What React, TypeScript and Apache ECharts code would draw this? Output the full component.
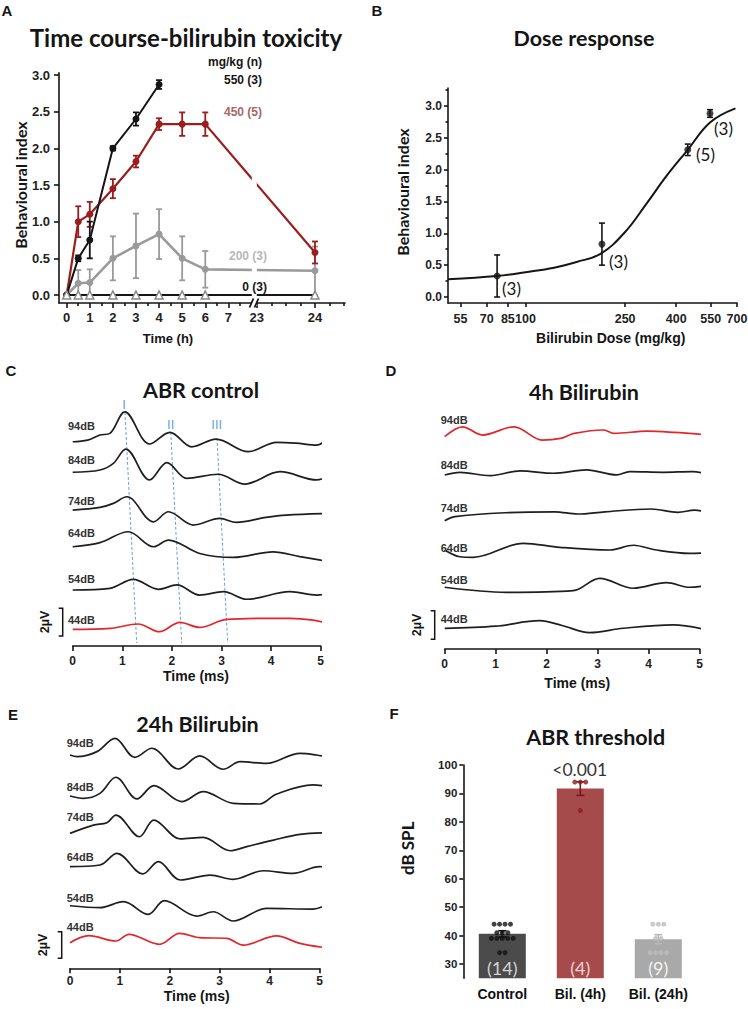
import React, { useEffect, useRef } from 'react';
import * as echarts from 'echarts';

// ---------- Panel A: time course ----------
const hoursAll = [0, 0.5, 1, 2, 3, 4, 5, 6, 24];
const hours550 = [0, 0.5, 1, 2, 3, 4];
const index550 = [0, 0.5, 0.75, 2.0, 2.4, 2.87];
const err550 = [0, 0.04, 0.25, 0.03, 0.09, 0.06];
const index450 = [0, 1.0, 1.1, 1.45, 1.82, 2.33, 2.33, 2.33, 0.58];
const err450 = [0, 0.21, 0.17, 0.13, 0.08, 0.08, 0.16, 0.16, 0.15];
const index200 = [0, 0.16, 0.17, 0.5, 0.67, 0.83, 0.5, 0.35, 0.33];
const err200 = [0, 0.18, 0.18, 0.3, 0.44, 0.34, 0.3, 0.25, 0.33];
const index0 = [0, 0, 0, 0, 0, 0, 0, 0, 0];
const timeTicks = [0, 1, 2, 3, 4, 5, 6, 7, 23, 24];
const timeMinorTicks = [0.5, 1.5, 2.5, 3.5, 4.5, 5.5, 6.5, 7.5, 23.25, 23.5, 23.75, 24.25, 24.5];
const indexTicks = [0, 0.5, 1, 1.5, 2, 2.5, 3];

// ---------- Panel B: dose response ----------
const doses = [77, 202, 445, 546];
const doseIndex = [0.33, 0.83, 2.31, 2.88];
const doseIndexErr = [0.33, 0.33, 0.09, 0.06];
const fitDoses = [49, 77, 100, 130, 160, 200, 250, 305, 366, 445, 546, 690];
const fitIndex = [0.28, 0.33, 0.39, 0.46, 0.55, 0.68, 1.02, 1.47, 1.9, 2.31, 2.74, 2.96];
const doseTicks = [55, 70, 85, 100, 250, 400, 550, 700];
const indexMinorTicks = [0.25, 0.75, 1.25, 1.75, 2.25, 2.75, 3.25];

// ---------- Panels C/D/E: ABR traces [time ms, µV] ----------
const dbLabels = ['94dB', '84dB', '74dB', '64dB', '54dB', '44dB'];
const ctrlTraces = [
  [[0, 0], [0.3, 0.12], [0.55, 0.48], [0.75, 0.6], [1.05, 2.14], [1.55, -0.16], [1.96, 0.67], [2.4, -0.36], [2.89, 0.19], [3.54, -0.71], [4.11, -0.04], [4.5, -0.1], [4.92, -0.24], [5.2, 0.48]],
  [[0, 0], [0.55, 0.16], [0.82, 0.64], [1.07, 1.66], [1.55, -0.55], [1.9, 0.69], [2.3, -0.43], [2.93, -0.14], [3.47, -0.84], [4.18, 0.04], [4.92, -0.55], [5.2, -0.19]],
  [[0, 0], [0.55, 0.19], [0.82, 0.48], [1.09, 0.95], [1.63, -0.84], [1.93, -0.12], [2.43, -1.07], [2.97, -0.6], [3.3, -0.88], [3.9, -0.52], [4.31, -0.36], [5.2, -0.24]],
  [[0, 0], [0.55, 0.29], [1.12, 1.07], [1.63, 0], [1.93, 0.48], [2.56, -0.48], [3.24, -0.76], [4.04, -0.36], [4.58, -0.71], [5.2, -1.07]],
  [[0, 0], [0.75, 0.12], [1.22, 0.76], [1.73, 0.05], [2.1, 0.36], [2.56, -0.36], [3.04, -0.12], [3.51, -0.66], [4.38, -0.12], [4.92, -0.36], [5.2, -0.19]],
  [[0, 0], [0.75, 0.07], [1.32, 0.38], [1.75, -0.17], [2.16, 0.5], [2.56, 0.14], [3.1, 0.71], [3.9, 0.79], [4.38, 0.79], [4.85, 0.66], [5.2, 0.38]],
];
const bil4Traces = [
  [[0, 0], [0.35, 0.71], [0.74, 0.12], [1.36, 0.71], [1.91, -0.24], [2.27, -0.12], [2.54, 0.24], [3.12, 0.48], [3.32, 0.24], [3.97, 0.4], [4.5, 0.31], [5.2, 0.12]],
  [[0, 0], [0.3, 0.19], [0.89, -0.05], [1.48, 0.29], [2.13, 0.12], [2.78, 0.36], [3.37, 0], [3.63, 0.24], [4.28, 0.19], [4.86, 0.24], [5.2, 0]],
  [[0, 0], [0.2, 0.29], [1.18, 0.57], [2.16, 0.64], [2.61, 0.48], [3.14, 0.64], [4.05, 0.84], [4.57, 0.6], [4.9, 0.76], [5.2, 0.53]],
  [[0, 0], [0.3, -0.48], [0.56, -0.52], [1.54, 0.48], [2.26, 0.19], [3.24, 0], [3.7, 0.34], [4.15, 0], [4.8, -0.24], [5.2, -0.19]],
  [[0, 0], [1.21, -0.36], [2.52, -0.24], [3.04, 0.64], [3.7, -0.07], [4.35, 0.33], [4.8, 0], [5.2, 0.16]],
  [[0, 0], [1.0, 0.15], [1.86, 0.54], [2.3, 0.2], [2.84, -0.31], [3.5, 0], [4.48, 0.24], [5.2, -0.17]],
];
const bil24Traces = [
  [[0, 0], [0.14, -0.12], [0.54, 0.24], [0.9, 1.19], [1.3, -0.17], [1.64, 0.48], [2.17, -1.0], [2.6, -0.07], [3.07, -1.02], [3.41, -0.48], [3.94, -0.6], [4.61, 0.12], [4.94, 0], [5.2, -0.19]],
  [[0, 0], [0.27, -0.17], [0.6, 0.19], [0.92, 1.34], [1.34, -0.21], [1.68, 0.74], [2.24, -0.4], [2.67, 0.31], [3.27, -0.52], [3.8, -0.57], [4.14, 0.14], [4.87, 0.79], [5.2, 0.67]],
  [[0, 0], [0.47, 0.59], [0.74, 0.76], [0.92, 1.31], [1.39, -0.24], [1.68, 0.95], [2.21, -0.4], [2.67, -0.29], [3.21, -1.24], [3.54, -0.95], [4.08, -0.48], [4.61, -0.07], [5.2, 0.05]],
  [[0, 0], [0.6, 0.12], [0.94, 0.95], [1.46, -0.52], [1.77, 0.36], [2.21, -0.95], [2.81, -0.6], [3.27, -0.9], [3.87, -0.29], [4.47, -0.48], [5.0, 0], [5.2, -0.05]],
  [[0, 0], [0.6, -0.14], [1.07, 0.29], [1.57, -0.62], [1.89, 0.36], [2.54, -0.74], [2.87, -0.43], [3.27, -1.09], [3.94, -0.19], [4.87, -0.24], [5.2, 0.17]],
  [[0, 0], [0.38, 0.5], [0.92, 0.12], [1.18, 0.6], [1.79, -0.12], [2.2, 0.67], [2.6, 0.36], [3.14, 0.31], [3.47, -0.17], [4.14, 0.48], [4.61, -0.05], [5.2, -0.4]],
];
// wave I, II, III markers in control panel [time ms, µV level]
const waveI = [[1.054, 16.71], [1.29, 0.21]];
const waveII = [[1.976, 15.29], [2.198, 0.21]];
const waveIII = [[2.909, 14.86], [3.125, 0.21]];

// ---------- Panel F: ABR threshold ----------
const groups = ['Control', 'Bil. (4h)', 'Bil. (24h)'];
const thresholdMean = [40.6, 91.7, 38.7];
const thresholdSem = [1.1, 2.4, 1.6];
const groupN = [14, 4, 9];
const controlDots = [44, 44, 44, 44, 41, 41, 41, 39, 39, 39, 39, 39, 34, 34];
const bil4Dots = [94, 94, 94, 84];
const bil24Dots = [44, 44, 44, 39, 39, 34, 34, 34, 34];
const dbTicks = [30, 40, 50, 60, 70, 80, 90, 100];

// ---------- styling / layout ----------
const ARIAL = '"Liberation Sans", Arial, sans-serif';
const CAL = 'Lato, "Open Sans", sans-serif';
const INK = '#151515';
const RED_TRACE = '#e3262a';
const DARK_RED = '#9b1d1d';
const GRAY = '#9a9a9a';

// broken time axis: 0-7 h compressed scale, 23-24 h expanded after the break
const brk = (h: number) => (h <= 7.5 ? h : 8.23 + (h - 23) * 2.52);

// vertical offsets (µV) of each trace in its panel
const ctrlOffsets = [14.59, 12.41, 9.71, 7.09, 4.0, 1.19];
const bil4Offsets = [15.16, 12.43, 9.16, 7.07, 4.41, 1.48];
const bil24Offsets = [15.24, 12.31, 9.64, 7.26, 4.47, 1.83];

function errRender(colorFor: (i: number) => string, lw = 1.6, cap = 3) {
  return (params: any, api: any) => {
    const x = api.value(0);
    const y = api.value(1);
    const e = api.value(2);
    if (!(e > 0)) return null;
    const lo = api.coord([x, y - e]);
    const hi = api.coord([x, y + e]);
    const st = { stroke: colorFor(params.dataIndex), lineWidth: lw };
    return {
      type: 'group',
      children: [
        { type: 'line', shape: { x1: lo[0], y1: lo[1], x2: hi[0], y2: hi[1] }, style: st },
        { type: 'line', shape: { x1: lo[0] - cap, y1: lo[1], x2: lo[0] + cap, y2: lo[1] }, style: st },
        { type: 'line', shape: { x1: hi[0] - cap, y1: hi[1], x2: hi[0] + cap, y2: hi[1] }, style: st },
      ],
    };
  };
}

function txt(text: string, x: number, y: number, o: any = {}) {
  return {
    type: 'text',
    x,
    y,
    z: 100,
    rotation: o.rot || 0,
    style: {
      text,
      fill: o.color || INK,
      fontSize: o.size || 12,
      fontWeight: o.weight || 'bold',
      fontFamily: o.family || ARIAL,
      textAlign: o.align || 'center',
      textVerticalAlign: 'middle',
    },
  };
}

function bracket(x: number, y1: number, y2: number) {
  return {
    type: 'polyline',
    z: 100,
    shape: { points: [[x - 4, y1], [x, y1], [x, y2], [x - 4, y2]] },
    style: { stroke: INK, lineWidth: 1.5, fill: 'none' },
  };
}

function jitter(vals: number[], center: number, step: number) {
  const counts: Record<number, number> = {};
  vals.forEach((v) => (counts[v] = (counts[v] || 0) + 1));
  const seen: Record<number, number> = {};
  return vals.map((v) => {
    const k = (seen[v] = seen[v] === undefined ? 0 : seen[v] + 1);
    return [center + (k - (counts[v] - 1) / 2) * step, v];
  });
}

const axLine = { show: true, onZero: false, lineStyle: { color: INK, width: 1.6 } };
const noLine = { show: false, onZero: false };
const tick = (len: number, custom?: number[]) => ({
  show: true,
  inside: false,
  length: len,
  lineStyle: { color: INK, width: 1.6 },
  ...(custom ? { customValues: custom } : {}),
});

function traceSeries(traces: number[][][], offsets: number[], redIdx: number, xi: number, yi: number) {
  return traces.map((tr, i) => ({
    type: 'line',
    xAxisIndex: xi,
    yAxisIndex: yi,
    data: tr.map(([t, v]) => [t, offsets[i] + v]),
    smooth: 0.35,
    symbol: 'none',
    clip: false,
    lineStyle: { color: i === redIdx ? RED_TRACE : '#1e1e1e', width: 1.7 },
    z: 3,
  }));
}

function buildOption(): any {
  const aTickPos = timeTicks.map(brk);
  const bTickPos = doseTicks.map((d) => Math.log10(d));
  const barColors = ['#4b4b4b', '#a54b4b', '#a9a9a9'];
  const barLabelColors = ['#d4d4d4', '#f1d2d2', '#f4f4f4'];
  const errColors = ['#111111', '#7d1515', '#b8b8b8'];

  const grid = [
    { left: 59, top: 72.8, width: 286, height: 230.2 },
    { left: 448, top: 88, width: 289, height: 215 },
    { left: 72.7, top: 395, width: 248, height: 251 },
    { left: 444.7, top: 395, width: 255, height: 254 },
    { left: 70, top: 720, width: 249.5, height: 248.3 },
    { left: 463.3, top: 765, width: 234, height: 213.2 },
  ].map((g) => ({ ...g, containLabel: false, outerBoundsMode: 'none' }));

  const timeAxis = (gi: number, margin: number) => ({
    type: 'value',
    gridIndex: gi,
    min: 0,
    max: 5,
    interval: 1,
    axisLine: axLine,
    axisTick: tick(5),
    splitLine: { show: false },
    axisLabel: { fontFamily: ARIAL, fontWeight: 'bold', fontSize: 12, color: '#222', margin },
  });

  const xAxis = [
    {
      type: 'value', gridIndex: 0, position: 'bottom', min: -0.333, max: 12.05,
      axisLine: axLine, axisTick: tick(5, aTickPos), splitLine: { show: false },
      axisLabel: {
        customValues: aTickPos, margin: 8, fontFamily: ARIAL, fontWeight: 'bold', fontSize: 13, color: '#222',
        formatter: (v: number) => {
          const i = aTickPos.findIndex((p) => Math.abs(p - v) < 1e-6);
          return i >= 0 ? String(timeTicks[i]) : '';
        },
      },
    },
    {
      type: 'value', gridIndex: 0, position: 'bottom', min: -0.333, max: 12.05,
      axisLine: noLine, axisLabel: { show: false }, splitLine: { show: false },
      axisTick: tick(3, timeMinorTicks.map(brk)),
    },
    {
      type: 'value', gridIndex: 1, position: 'bottom', min: Math.log10(49), max: Math.log10(700),
      axisLine: axLine, axisTick: tick(4, bTickPos), splitLine: { show: false },
      axisLabel: {
        customValues: bTickPos, margin: 9, fontFamily: ARIAL, fontWeight: 'bold', fontSize: 12.5, color: '#222',
        formatter: (v: number) => String(Math.round(Math.pow(10, v))),
      },
    },
    timeAxis(2, 9),
    timeAxis(3, 9),
    timeAxis(4, 7),
    {
      type: 'category', gridIndex: 5, data: groups,
      axisLine: noLine, axisTick: { show: false }, splitLine: { show: false },
      axisLabel: { fontFamily: ARIAL, fontWeight: 'bold', fontSize: 14, color: '#111', margin: 9 },
    },
    { type: 'value', gridIndex: 5, min: -0.5, max: 2.5, show: false, axisLine: noLine },
  ];

  const hiddenY = (gi: number, max: number) => ({ type: 'value', gridIndex: gi, min: 0, max, show: false, axisLine: noLine });

  const yAxis = [
    {
      type: 'value', gridIndex: 0, position: 'left', min: -0.109, max: 3.03,
      axisLine: axLine, axisTick: tick(5, indexTicks), splitLine: { show: false },
      axisLabel: { customValues: indexTicks, margin: 9, fontFamily: ARIAL, fontWeight: 'bold', fontSize: 13, color: '#222', formatter: (v: number) => v.toFixed(1) },
    },
    {
      type: 'value', gridIndex: 1, position: 'left', min: -0.094, max: 3.28,
      axisLine: axLine, axisTick: tick(4, indexTicks), splitLine: { show: false },
      axisLabel: { customValues: indexTicks, margin: 6, fontFamily: ARIAL, fontWeight: 'bold', fontSize: 12, color: '#222', formatter: (v: number) => v.toFixed(1) },
    },
    hiddenY(2, 17.93),
    hiddenY(3, 18.14),
    hiddenY(4, 17.74),
    {
      type: 'value', gridIndex: 5, position: 'left', min: 25, max: 100,
      axisLine: axLine, axisTick: tick(4, dbTicks), splitLine: { show: false },
      axisLabel: { customValues: dbTicks, margin: 6, fontFamily: ARIAL, fontWeight: 'bold', fontSize: 11.5, color: '#222' },
    },
    {
      type: 'value', gridIndex: 1, position: 'left', min: -0.094, max: 3.28,
      axisLine: noLine, axisLabel: { show: false }, splitLine: { show: false },
      axisTick: tick(2.5, indexMinorTicks),
    },
  ];

  const aErr = (hrs: number[], vals: number[], errs: number[], color: string) => ({
    type: 'custom', xAxisIndex: 0, yAxisIndex: 0, z: 2,
    renderItem: errRender(() => color, 1.8, 3),
    encode: { x: 0, y: 1 },
    data: hrs.map((h, i) => [brk(h), vals[i], errs[i]]),
  });
  const aLine = (hrs: number[], vals: number[], color: string, width: number) => ({
    type: 'line', xAxisIndex: 0, yAxisIndex: 0, z: 3,
    data: hrs.map((h, i) => [brk(h), vals[i]]),
    symbol: 'circle', symbolSize: 7,
    itemStyle: { color }, lineStyle: { color, width },
  });

  const series: any[] = [
    // Panel A
    aErr(hoursAll, index200, err200, GRAY),
    aLine(hoursAll, index200, GRAY, 2.6),
    aErr(hoursAll, index450, err450, DARK_RED),
    aLine(hoursAll, index450, DARK_RED, 2.2),
    aErr(hours550, index550, err550, INK),
    aLine(hours550, index550, INK, 2),
    {
      type: 'line', xAxisIndex: 0, yAxisIndex: 0, z: 4,
      data: hoursAll.map((h, i) => [brk(h), index0[i]]),
      symbol: 'triangle', symbolSize: 8,
      itemStyle: { color: '#ffffff', borderColor: '#8a8a8a', borderWidth: 1.5 },
      lineStyle: { color: INK, width: 2 },
    },
    // Panel B
    {
      type: 'line', xAxisIndex: 2, yAxisIndex: 1, z: 3,
      data: fitDoses.map((d, i) => [Math.log10(d), fitIndex[i]]),
      smooth: 0.4, symbol: 'none', lineStyle: { color: INK, width: 2 },
    },
    {
      type: 'custom', xAxisIndex: 2, yAxisIndex: 1, z: 3,
      renderItem: errRender(() => INK, 1.6, 3), encode: { x: 0, y: 1 },
      data: doses.map((d, i) => [Math.log10(d), doseIndex[i], doseIndexErr[i]]),
    },
    {
      type: 'scatter', xAxisIndex: 2, yAxisIndex: 1, z: 4, symbolSize: 7,
      itemStyle: { color: INK },
      data: doses.map((d, i) => [Math.log10(d), doseIndex[i]]),
    },
    // Panels C, D, E
    ...traceSeries(ctrlTraces, ctrlOffsets, 5, 3, 2),
    ...[waveI, waveII, waveIII].map((w) => ({
      type: 'line', xAxisIndex: 3, yAxisIndex: 2, z: 2, data: w, symbol: 'none',
      lineStyle: { color: '#6f9fd8', width: 1, type: [3, 2] },
    })),
    ...traceSeries(bil4Traces, bil4Offsets, 0, 4, 3),
    ...traceSeries(bil24Traces, bil24Offsets, 5, 5, 4),
    // Panel F
    {
      type: 'bar', xAxisIndex: 6, yAxisIndex: 5, z: 2, barWidth: 47,
      data: thresholdMean.map((v, i) => ({ value: v, itemStyle: { color: barColors[i] }, label: { color: barLabelColors[i] } })),
      label: {
        show: true, position: 'insideBottom', distance: 1,
        fontFamily: CAL, fontSize: 18,
        formatter: (p: any) => `(${groupN[p.dataIndex]})`,
      },
    },
    {
      type: 'custom', xAxisIndex: 7, yAxisIndex: 5, z: 3,
      renderItem: errRender((i) => errColors[i], 1.6, 4), encode: { x: 0, y: 1 },
      data: thresholdMean.map((v, i) => [i, v, thresholdSem[i]]),
    },
    ...[controlDots, bil4Dots, bil24Dots].map((vals, gi) => ({
      type: 'scatter', xAxisIndex: 7, yAxisIndex: 5, z: 4, symbolSize: 5,
      itemStyle: { color: ['#111111', '#8b1a1a', '#bdbdbd'][gi] },
      data: jitter(vals, gi, 0.07),
    })),
  ];

  const graphic: any[] = [
    // panel letters
    txt('A', 7, 10, { size: 15 }),
    txt('B', 377, 10, { size: 15 }),
    txt('C', 11, 370, { size: 15 }),
    txt('D', 391, 370, { size: 15 }),
    txt('E', 13, 714, { size: 15 }),
    txt('F', 394, 713, { size: 15 }),
    // titles
    txt('Time course-bilirubin toxicity', 186, 37, { family: CAL, size: 24 }),
    txt('Dose response', 584, 38, { family: CAL, size: 21.5 }),
    txt('ABR control', 201, 390, { family: CAL, size: 21.5 }),
    txt('4h Bilirubin', 584, 392, { family: CAL, size: 21.5 }),
    txt('24h Bilirubin', 197.5, 724, { family: CAL, size: 21.5 }),
    txt('ABR threshold', 595.7, 737, { family: CAL, size: 21.5 }),
    // axis names
    txt('Behavioural index', 20, 185, { family: CAL, size: 16, rot: Math.PI / 2 }),
    txt('Time (h)', 168, 338, { size: 13 }),
    txt('Behavioural index', 402, 192, { family: CAL, size: 16, rot: Math.PI / 2 }),
    txt('Bilirubin Dose (mg/kg)', 610.7, 338, { size: 14 }),
    txt('Time (ms)', 196, 676, { size: 14 }),
    txt('Time (ms)', 577.3, 683.3, { size: 14 }),
    txt('Time (ms)', 196.7, 996, { size: 14 }),
    txt('dB SPL', 407.3, 848.3, { family: CAL, size: 17, rot: Math.PI / 2 }),
    // panel A break on the axis and through the lines
    { type: 'rect', z: 50, shape: { x: 251.8, y: 90, width: 5, height: 216 }, style: { fill: '#ffffff' } },
    { type: 'line', z: 60, shape: { x1: 249.5, y1: 307.5, x2: 253.5, y2: 298.5 }, style: { stroke: INK, lineWidth: 1.8 } },
    { type: 'line', z: 60, shape: { x1: 254.5, y1: 307.5, x2: 258.5, y2: 298.5 }, style: { stroke: INK, lineWidth: 1.8 } },
    // panel A annotations
    txt('mg/kg (n)', 262, 62, { align: 'right' }),
    txt('550 (3)', 262, 80, { align: 'right' }),
    txt('450 (5)', 262, 112, { align: 'right', color: '#a66868' }),
    txt('200 (3)', 267, 256, { align: 'right', color: '#b8b8b8' }),
    txt('0 (3)', 267, 287, { align: 'right' }),
    // panel B n labels
    txt('(3)', 502, 288, { align: 'left', family: CAL, weight: 'normal', size: 17 }),
    txt('(3)', 609, 261, { align: 'left', family: CAL, weight: 'normal', size: 17 }),
    txt('(5)', 696, 154, { align: 'left', family: CAL, weight: 'normal', size: 17 }),
    txt('(3)', 714, 128, { align: 'left', family: CAL, weight: 'normal', size: 17 }),
    // wave labels
    txt('I', 124, 404, { weight: 'normal', size: 13, color: '#6f9fd8' }),
    txt('II', 170.7, 424, { weight: 'normal', size: 13, color: '#6f9fd8' }),
    txt('III', 216.7, 424, { weight: 'normal', size: 13, color: '#6f9fd8' }),
    // scale bars
    bracket(62.7, 608.3, 636),
    txt('2µV', 45, 622, { size: 12.5, rot: Math.PI / 2 }),
    bracket(434.7, 610.7, 639.3),
    txt('2µV', 417.3, 625, { size: 12.5, rot: Math.PI / 2 }),
    bracket(61.7, 931.7, 958.3),
    txt('2µV', 43.3, 945, { size: 12.5, rot: Math.PI / 2 }),
    // p-value
    txt('<0.001', 579.7, 769.3, { family: CAL, weight: 'normal', size: 17.5, color: '#333' }),
  ];

  const cLabelY = [425.7, 460, 501, 533.3, 579, 620];
  const dLabelY = [420, 465, 508.3, 547.7, 580, 619.3];
  const eLabelY = [743.3, 786.7, 816.7, 856.7, 898.3, 926.7];
  dbLabels.forEach((l, i) => {
    graphic.push(txt(l, 68, cLabelY[i], { align: 'left', size: 11, color: '#333' }));
    graphic.push(txt(l, 440.7, dLabelY[i], { align: 'left', size: 11, color: '#333' }));
    graphic.push(txt(l, 66.7, eLabelY[i], { align: 'left', size: 11, color: '#333' }));
  });

  return {
    animation: false,
    backgroundColor: '#ffffff',
    grid,
    xAxis,
    yAxis,
    series,
    graphic: { elements: graphic },
  };
}

export default function App() {
  const ref = useRef<HTMLDivElement>(null);
  useEffect(() => {
    const chart = echarts.init(ref.current as HTMLDivElement, undefined, { renderer: 'svg' });
    chart.setOption(buildOption());
    return () => chart.dispose();
  }, []);
  return (
    <div
      ref={ref}
      style={{ position: 'absolute', left: 0, top: 0, width: 748, height: 1009, background: '#fff' }}
    />
  );
}
